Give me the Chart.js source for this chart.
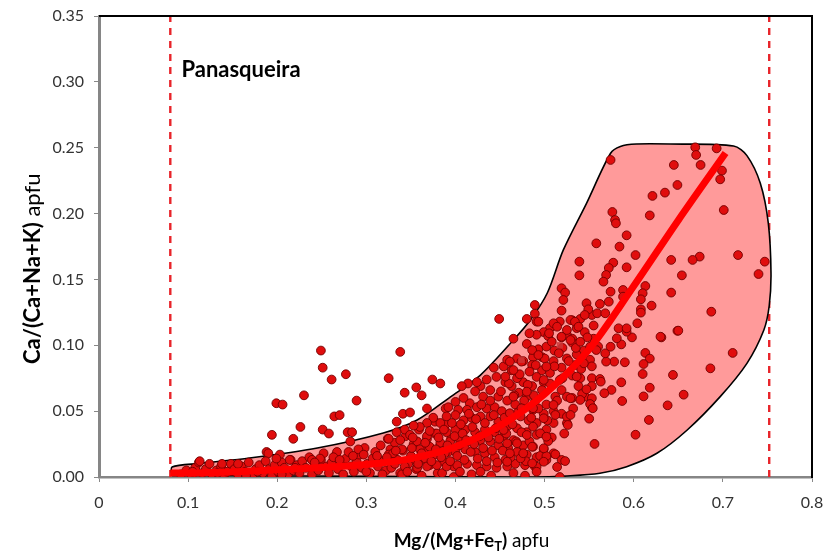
<!DOCTYPE html>
<html><head><meta charset="utf-8">
<script src="https://cdn.jsdelivr.net/npm/chart.js@4.4.0/dist/chart.umd.min.js"></script>
<style>html,body{margin:0;padding:0;background:#fff}#wrap{width:828px;height:553px}</style>
</head><body><div id="wrap"><canvas id="c" width="828" height="553"></canvas></div>
<script>
// ---- data ----
const xTicks = [0,0.1,0.2,0.3,0.4,0.5,0.6,0.7,0.8];
const yTicks = [0,0.05,0.10,0.15,0.20,0.25,0.30,0.35];
const limitX = [0.08, 0.752];
const trendX = [0.08,0.12,0.16,0.2,0.25,0.3,0.35,0.4,0.45,0.5,0.55,0.6,0.65,0.703];
const trendY = [0.003,0.0033,0.0042,0.0055,0.0072,0.0095,0.014,0.023,0.039,0.063,0.097,0.145,0.195,0.246];
const envelope = [[0.082,0.001],[0.082,0.0076],[0.113,0.0103],[0.169,0.0144],[0.245,0.022],[0.319,0.0334],[0.357,0.0433],[0.394,0.0607],[0.428,0.0774],[0.465,0.104],[0.484,0.1192],[0.503,0.1397],[0.521,0.1724],[0.547,0.2078],[0.574,0.2458],[0.585,0.251],[0.603,0.2528],[0.641,0.2528],[0.712,0.2513],[0.727,0.244],[0.742,0.223],[0.751,0.1926],[0.754,0.1547],[0.752,0.13],[0.746,0.1116],[0.727,0.0863],[0.697,0.061],[0.66,0.0357],[0.626,0.018],[0.592,0.0078],[0.562,0.0028],[0.525,0.0008],[0.487,0.0],[0.3,0.0005],[0.15,0.001],[0.082,0.001]];
const outlierPts = [[0.249,0.096],[0.251,0.083],[0.261,0.074],[0.277,0.078],[0.325,0.075],[0.338,0.095],[0.199,0.056],[0.206,0.055],[0.230,0.062],[0.289,0.058],[0.264,0.046],[0.270,0.047],[0.226,0.038],[0.194,0.032],[0.218,0.029],[0.251,0.036],[0.258,0.033],[0.279,0.034],[0.284,0.034],[0.324,0.029],[0.188,0.019],[0.190,0.018],[0.203,0.017],[0.449,0.120],[0.356,0.068],[0.374,0.074],[0.383,0.071],[0.343,0.064],[0.362,0.062],[0.341,0.048],[0.349,0.049],[0.389,0.052],[0.377,0.042],[0.368,0.052],[0.334,0.042],[0.282,0.027]];
const lowBandPts = [[0.092,0.002],[0.098,0.005],[0.104,0.001],[0.108,0.007],[0.112,0.011],[0.116,0.003],[0.120,0.006],[0.124,0.010],[0.127,0.002],[0.132,0.005],[0.137,0.008],[0.140,0.001],[0.144,0.004],[0.148,0.010],[0.152,0.006],[0.156,0.002],[0.160,0.008],[0.164,0.004],[0.168,0.011],[0.172,0.001],[0.176,0.006],[0.180,0.009],[0.184,0.003],[0.187,0.012],[0.191,0.006],[0.194,0.001],[0.197,0.009],[0.201,0.004],[0.205,0.011],[0.208,0.007],[0.212,0.002],[0.215,0.013],[0.218,0.005],[0.222,0.009],[0.225,0.003],[0.228,0.012],[0.232,0.007],[0.236,0.015],[0.239,0.002],[0.242,0.009],[0.246,0.005],[0.249,0.013],[0.252,0.018],[0.255,0.008],[0.258,0.003],[0.261,0.011],[0.265,0.016],[0.268,0.006],[0.271,0.010],[0.274,0.002],[0.277,0.014],[0.280,0.019],[0.283,0.008],[0.286,0.004],[0.289,0.012],[0.292,0.017],[0.295,0.007],[0.298,0.022],[0.301,0.010],[0.304,0.003],[0.307,0.014],[0.310,0.019],[0.313,0.008],[0.316,0.024],[0.319,0.012],[0.322,0.005],[0.327,0.021],[0.330,0.015],[0.291,0.021],[0.297,0.017],[0.267,0.019],[0.263,0.015],[0.248,0.014],[0.239,0.013],[0.214,0.013],[0.199,0.014],[0.113,0.012],[0.138,0.010],[0.156,0.010],[0.325,0.017],[0.328,0.007],[0.332,0.026],[0.335,0.013],[0.338,0.003],[0.341,0.020],[0.344,0.031],[0.347,0.010],[0.350,0.016],[0.353,0.025],[0.356,0.006],[0.359,0.036],[0.362,0.013],[0.365,0.021],[0.368,0.029],[0.371,0.009],[0.374,0.017],[0.377,0.033],[0.380,0.003],[0.383,0.024],[0.386,0.012],[0.389,0.040],[0.392,0.019],[0.395,0.029],[0.398,0.008],[0.340,0.002],[0.362,0.001],[0.385,0.003],[0.398,0.000],[0.418,0.002],[0.440,0.001],[0.465,0.003],[0.478,0.001]];
const corePts = [[0.489,0.124],[0.491,0.118],[0.480,0.120],[0.510,0.115],[0.517,0.118],[0.531,0.119],[0.540,0.120],[0.553,0.123],[0.555,0.115],[0.536,0.113],[0.506,0.113],[0.499,0.110],[0.465,0.105],[0.491,0.108],[0.504,0.107],[0.519,0.106],[0.525,0.108],[0.531,0.105],[0.545,0.110],[0.480,0.101],[0.493,0.097],[0.502,0.099],[0.511,0.096],[0.520,0.098],[0.531,0.102],[0.555,0.105],[0.560,0.099],[0.544,0.096],[0.536,0.093],[0.525,0.090],[0.510,0.088],[0.497,0.091],[0.487,0.091],[0.476,0.088],[0.469,0.090],[0.486,0.085],[0.497,0.081],[0.506,0.079],[0.519,0.083],[0.534,0.085],[0.551,0.089],[0.553,0.084],[0.540,0.075],[0.531,0.077],[0.538,0.069],[0.553,0.075],[0.553,0.069],[0.545,0.061],[0.553,0.053],[0.525,0.061],[0.531,0.060],[0.519,0.066],[0.512,0.061],[0.499,0.072],[0.491,0.076],[0.483,0.080],[0.476,0.072],[0.486,0.069],[0.469,0.075],[0.463,0.081],[0.454,0.084],[0.443,0.083],[0.458,0.089],[0.446,0.076],[0.435,0.074],[0.456,0.072],[0.463,0.069],[0.471,0.064],[0.480,0.061],[0.489,0.057],[0.502,0.055],[0.510,0.050],[0.519,0.048],[0.525,0.041],[0.510,0.041],[0.499,0.048],[0.487,0.051],[0.476,0.053],[0.467,0.055],[0.458,0.058],[0.448,0.061],[0.439,0.066],[0.428,0.069],[0.431,0.061],[0.422,0.065],[0.414,0.071],[0.407,0.069],[0.424,0.072],[0.416,0.056],[0.409,0.060],[0.400,0.057],[0.392,0.053],[0.403,0.051],[0.413,0.051],[0.424,0.053],[0.435,0.052],[0.444,0.053],[0.452,0.050],[0.461,0.047],[0.473,0.046],[0.482,0.043],[0.491,0.041],[0.502,0.036],[0.491,0.032],[0.480,0.034],[0.469,0.037],[0.459,0.039],[0.448,0.042],[0.439,0.046],[0.428,0.046],[0.418,0.045],[0.409,0.043],[0.400,0.047],[0.390,0.046],[0.383,0.041],[0.375,0.045],[0.368,0.041],[0.360,0.038],[0.353,0.039],[0.343,0.036],[0.334,0.034],[0.325,0.029],[0.338,0.028],[0.349,0.032],[0.357,0.027],[0.368,0.031],[0.379,0.033],[0.390,0.034],[0.400,0.036],[0.411,0.036],[0.422,0.034],[0.433,0.036],[0.444,0.034],[0.454,0.031],[0.465,0.028],[0.476,0.024],[0.487,0.023],[0.499,0.021],[0.510,0.018],[0.519,0.013],[0.502,0.013],[0.491,0.015],[0.480,0.017],[0.469,0.019],[0.459,0.022],[0.448,0.024],[0.439,0.027],[0.428,0.028],[0.416,0.027],[0.405,0.028],[0.394,0.027],[0.383,0.026],[0.371,0.023],[0.360,0.021],[0.351,0.022],[0.340,0.021],[0.330,0.018],[0.323,0.015],[0.332,0.010],[0.343,0.008],[0.355,0.013],[0.366,0.014],[0.377,0.017],[0.388,0.018],[0.400,0.019],[0.411,0.021],[0.422,0.019],[0.433,0.018],[0.444,0.015],[0.456,0.013],[0.467,0.010],[0.478,0.009],[0.489,0.008],[0.458,0.008],[0.446,0.007],[0.435,0.008],[0.424,0.009],[0.413,0.010],[0.402,0.009],[0.390,0.008],[0.379,0.009],[0.368,0.008],[0.357,0.007],[0.405,0.004],[0.428,0.004],[0.517,0.000]];
const densePts = [[0.362,0.018],[0.366,0.026],[0.371,0.035],[0.373,0.012],[0.378,0.021],[0.381,0.030],[0.384,0.015],[0.387,0.036],[0.391,0.024],[0.394,0.012],[0.396,0.041],[0.399,0.031],[0.402,0.016],[0.404,0.024],[0.406,0.040],[0.408,0.033],[0.410,0.013],[0.412,0.028],[0.415,0.048],[0.417,0.019],[0.419,0.038],[0.421,0.025],[0.423,0.044],[0.425,0.014],[0.427,0.031],[0.429,0.055],[0.431,0.022],[0.433,0.041],[0.435,0.012],[0.437,0.030],[0.439,0.058],[0.441,0.020],[0.443,0.047],[0.445,0.037],[0.447,0.011],[0.449,0.029],[0.451,0.065],[0.453,0.020],[0.455,0.045],[0.457,0.033],[0.460,0.071],[0.462,0.015],[0.464,0.040],[0.466,0.062],[0.468,0.027],[0.470,0.049],[0.472,0.078],[0.474,0.034],[0.477,0.058],[0.479,0.012],[0.481,0.070],[0.483,0.027],[0.485,0.045],[0.488,0.062],[0.490,0.085],[0.493,0.052],[0.495,0.016],[0.497,0.066],[0.500,0.090],[0.503,0.043],[0.506,0.071],[0.508,0.030],[0.511,0.084],[0.514,0.058],[0.516,0.094],[0.520,0.075],[0.522,0.033],[0.527,0.088],[0.532,0.052],[0.535,0.098],[0.541,0.082],[0.548,0.106],[0.300,0.004],[0.312,0.016],[0.318,0.002],[0.333,0.020],[0.346,0.004],[0.352,0.030],[0.358,0.010],[0.270,0.013],[0.285,0.016],[0.242,0.011],[0.220,0.007],[0.205,0.002],[0.178,0.004],[0.165,0.001],[0.133,0.003],[0.105,0.004]];
const rightPts = [[0.711,0.0942],[0.686,0.0825],[0.644,0.0775],[0.631,0.106],[0.649,0.111],[0.613,0.0942],[0.618,0.0899],[0.611,0.0858],[0.610,0.0782],[0.598,0.106],[0.586,0.1007],[0.590,0.0871],[0.578,0.0876],[0.569,0.0876],[0.586,0.0719],[0.618,0.0678],[0.611,0.0612],[0.656,0.0625],[0.638,0.0544],[0.617,0.0433],[0.587,0.0577],[0.575,0.0661],[0.567,0.0636],[0.602,0.0321],[0.556,0.0251],[0.550,0.0443],[0.523,0.0121],[0.514,0.0076],[0.562,0.0744],[0.563,0.0724],[0.542,0.063],[0.547,0.0666],[0.553,0.0598],[0.551,0.0554],[0.554,0.0522],[0.540,0.0585],[0.529,0.0598],[0.525,0.0458],[0.529,0.0471],[0.526,0.0395],[0.512,0.0471],[0.504,0.0273],[0.512,0.0172],[0.502,0.0159],[0.491,0.0078],[0.486,0.0104],[0.499,0.0218],[0.495,0.0332],[0.487,0.0382],[0.480,0.0319],[0.469,0.0256],[0.473,0.0142],[0.458,0.0116],[0.458,0.0256],[0.454,0.0357],[0.456,0.0762],[0.461,0.0876],[0.474,0.0876],[0.486,0.0964],[0.493,0.0926],[0.502,0.0838],[0.508,0.1027],[0.519,0.1065],[0.529,0.104],[0.540,0.1027],[0.551,0.0989],[0.558,0.0964],[0.568,0.0939],[0.574,0.0989],[0.581,0.1053],[0.592,0.1103],[0.544,0.0863],[0.536,0.0762],[0.517,0.0737],[0.499,0.0737],[0.465,0.0812],[0.465,0.061],[0.480,0.0648],[0.487,0.0522],[0.474,0.0522],[0.461,0.0484],[0.499,0.0446],[0.510,0.0547],[0.502,0.0306],[0.486,0.023],[0.461,0.018],[0.476,0.018],[0.499,0.0116],[0.491,0.004]];
const upperPts = [[0.669,0.2503],[0.693,0.2495],[0.670,0.2445],[0.675,0.2369],[0.645,0.2369],[0.574,0.2407],[0.699,0.2326],[0.697,0.226],[0.649,0.2217],[0.635,0.2159],[0.621,0.2134],[0.701,0.2027],[0.618,0.1986],[0.576,0.2012],[0.579,0.1951],[0.580,0.1926],[0.592,0.1835],[0.558,0.1774],[0.584,0.1749],[0.602,0.1685],[0.717,0.1685],[0.747,0.1635],[0.740,0.1541],[0.674,0.1673],[0.666,0.1648],[0.642,0.1648],[0.654,0.1531],[0.592,0.1592],[0.577,0.1627],[0.572,0.1587],[0.569,0.1534],[0.566,0.1483],[0.539,0.1635],[0.539,0.1531],[0.519,0.1433],[0.523,0.14],[0.521,0.1344],[0.574,0.1407],[0.588,0.142],[0.613,0.145],[0.610,0.1395],[0.608,0.1349],[0.642,0.14],[0.620,0.1301],[0.608,0.1273],[0.588,0.1369],[0.572,0.1331],[0.562,0.1314],[0.547,0.1319],[0.549,0.1273],[0.545,0.123],[0.559,0.1243],[0.568,0.1243],[0.489,0.1306],[0.493,0.1179],[0.483,0.1091],[0.519,0.1263],[0.529,0.1192],[0.534,0.1179],[0.538,0.1141],[0.510,0.1167],[0.514,0.1141],[0.505,0.1091],[0.525,0.1116],[0.583,0.1129],[0.592,0.1129],[0.604,0.1167],[0.608,0.1248],[0.650,0.1111],[0.687,0.1255],[0.630,0.1065]];
const squarePts = [[0.474,0.089],[0.517,0.100]];

// ---- chart ----
const toXY = a => a.map(p => ({x:p[0], y:p[1]}));
const allPts = [].concat(outlierPts, lowBandPts, corePts, densePts, rightPts, upperPts);
const FONT = 'Lato, "Open Sans", sans-serif';

const decor = {
  id: 'decor',
  afterDraw(chart) {
    const {ctx, chartArea: a, scales} = chart;
    ctx.save();
    ctx.strokeStyle = '#000'; ctx.lineWidth = 2;
    ctx.beginPath(); ctx.moveTo(a.left, a.top); ctx.lineTo(a.right, a.top); ctx.lineTo(a.right, a.bottom + 1); ctx.stroke();
    ctx.fillStyle = '#000'; ctx.textBaseline = 'alphabetic'; ctx.textAlign = 'left';
    ctx.font = 'bold 22px ' + FONT;
    ctx.fillText('Panasqueira', scales.x.getPixelForValue(0.0925), scales.y.getPixelForValue(0.3035));
    const parts = [['bold 19px ', 'Mg/(Mg+Fe', 0], ['bold 13px ', 'T', 4], ['bold 19px ', ')', 0], ['19px ', ' apfu', 0]];
    let w = 0; parts.forEach(p => { ctx.font = p[0] + FONT; w += ctx.measureText(p[1]).width; });
    let x = 471.5 - w / 2; const yb = 547;
    parts.forEach(p => { ctx.font = p[0] + FONT; ctx.fillText(p[1], x, yb + p[2]); x += ctx.measureText(p[1]).width; });
    ctx.translate(40, 364); ctx.rotate(-Math.PI / 2);
    ctx.font = 'bold 22px ' + FONT; ctx.fillText('Ca/(Ca+Na+K)', 0, 0);
    const w1 = ctx.measureText('Ca/(Ca+Na+K)').width;
    ctx.font = '22px ' + FONT; ctx.fillText(' apfu', w1, 0);
    ctx.restore();
  }
};

new Chart(document.getElementById('c'), {
  type: 'scatter',
  data: {
    datasets: [
      { label: 'trend', data: trendX.map((v, i) => ({x: v, y: trendY[i]})), showLine: true, borderColor: '#ff0000', borderWidth: 7, pointRadius: 0, cubicInterpolationMode: 'monotone', order: 0 },
      { label: 'sq', data: toXY(squarePts), pointStyle: 'rect', pointRadius: 4.5, backgroundColor: 'rgba(205,55,55,0.85)', borderWidth: 0, order: 1 },
      { label: 'pts', data: toXY(allPts), pointRadius: 4.4, backgroundColor: '#e00d0d', borderColor: '#730000', borderWidth: 0.9, order: 2 },
      { label: 'env', data: toXY(envelope), showLine: true, fill: 'shape', backgroundColor: '#ff9a9a', borderColor: '#000', borderWidth: 1.6, pointRadius: 0, tension: 0.3, order: 3 },
      { label: 'l1', data: [{x: limitX[0], y: 0}, {x: limitX[0], y: 0.35}], showLine: true, borderColor: '#e8242a', borderWidth: 2.4, borderDash: [7, 6], pointRadius: 0, order: 4 },
      { label: 'l2', data: [{x: limitX[1], y: 0}, {x: limitX[1], y: 0.35}], showLine: true, borderColor: '#e8242a', borderWidth: 2.4, borderDash: [7, 6], pointRadius: 0, order: 4 }
    ]
  },
  options: {
    responsive: false, animation: false, devicePixelRatio: 1,
    layout: { padding: { left: 0, right: 16, top: 16, bottom: 0 } },
    plugins: { legend: { display: false }, tooltip: { enabled: false } },
    scales: {
      x: {
        type: 'linear', min: 0, max: 0.8,
        afterBuildTicks: s => { s.ticks = xTicks.map(v => ({value: v})); },
        afterFit: s => { s.height = 76; s.paddingLeft = 0; s.paddingRight = 0; },
        ticks: { callback: v => (v === 0 ? '0' : v.toFixed(1)), color: '#333', font: { family: FONT, size: 16 }, padding: 11, maxRotation: 0 },
        grid: { drawOnChartArea: false, drawTicks: true, tickLength: 5, color: '#888' },
        border: { display: true, color: '#868686', width: 2.5 }
      },
      y: {
        type: 'linear', min: 0, max: 0.35,
        afterBuildTicks: s => { s.ticks = yTicks.map(v => ({value: v})); },
        afterFit: s => { s.width = 99; s.paddingTop = 0; s.paddingBottom = 0; },
        ticks: { callback: v => v.toFixed(2), color: '#333', font: { family: FONT, size: 16 }, padding: 10 },
        grid: { drawOnChartArea: false, drawTicks: true, tickLength: 5, color: '#888' },
        border: { display: true, color: '#868686', width: 3 }
      }
    }
  },
  plugins: [decor]
});
</script></body></html>
